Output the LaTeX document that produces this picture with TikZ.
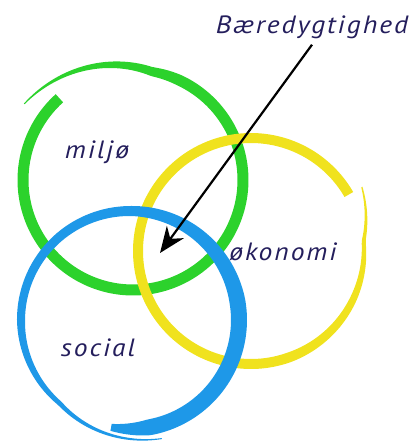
\documentclass[tikz,border=0pt]{standalone}
\usepackage{fontspec}
\setmainfont{PT Sans}
\usetikzlibrary{arrows.meta}

\definecolor{ringgreen}{RGB}{44,210,44}
\definecolor{ringyellow}{RGB}{240,226,30}
\definecolor{ringblue}{RGB}{30,152,232}
\definecolor{inknavy}{RGB}{36,30,92}

% brush ring: colour, centre, start angle, end angle, radius(\x), width(\x)
\newcommand{\brushring}[6]{%
  \fill[#1, shift={(#2)}]
    plot[domain=#3:#4, samples=180, smooth] ({((#5)+(#6)/2)*cos(\x)}, {-((#5)+(#6)/2)*sin(\x)})
    -- plot[domain=#4:#3, samples=180, smooth] ({((#5)-(#6)/2)*cos(\x)}, {-((#5)-(#6)/2)*sin(\x)})
    -- cycle;}

\begin{document}
\begin{tikzpicture}[x=1pt,y=-1pt]
\tikzset{ink/.style={text=inknavy, inner sep=0pt, font=\fontsize{25}{29}\selectfont\itshape\addfontfeature{FakeStretch=1.1,LetterSpace=8}}}
\useasboundingbox (0,0) rectangle (414,445);
\brushring{ringgreen}{133,180}{132}{505}{110+max(0,\x-440)*0.35}{11-max(0,\x-425)*0.125}
\brushring{ringyellow}{251,251}{30}{390}{113+max(0,\x-365)*0.6}{10-max(0,\x-290)*0.067-max(0,\x-335)*0.035}
\brushring{ringblue}{130,320}{260}{645}{109+max(0,\x-590)*0.25}{16-max(0,280-\x)*0.45-max(0,\x-370)*0.075+max(0,\x-450)*0.053-max(0,\x-540)*0.045}
\node[ink] (miljo) at (97,152) {miljø};
\node[ink] (okonomi) at (283,252) {økonomi};
\node[ink] (social) at (98,348) {social};
\node[ink, inner ysep=6pt] (baeredygtighed) at (312,27) {Bæredygtighed};
\coordinate (kerne) at (160,253);
\draw[line width=2.2pt, -{Stealth[length=26pt, width=21pt]}] (baeredygtighed.south) -- (kerne);
\end{tikzpicture}
\end{document}
